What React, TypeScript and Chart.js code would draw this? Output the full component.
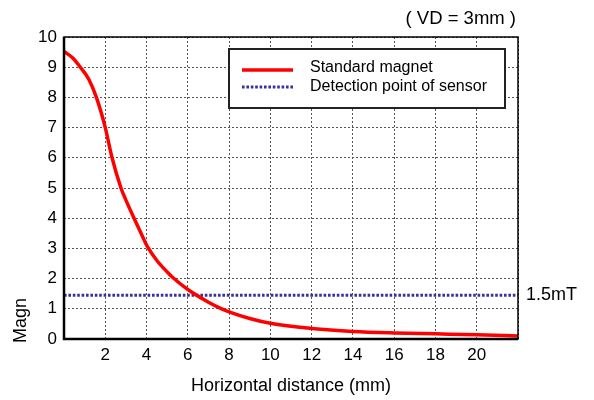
import React, { useEffect, useRef } from "react";
import { Chart, registerables } from "chart.js";

Chart.register(...registerables);

// Horizontal distance (mm)
const distances = [0, 0.4, 0.79, 1.2, 1.57, 2.0, 2.31, 2.76, 3.0, 3.36, 3.7, 4.05, 4.5, 5.0, 5.3, 6.0, 7.0, 7.64, 8, 9, 10, 12, 14, 16, 18, 20, 22];
// Standard magnet flux density (mT)
const magnetValues = [9.52, 9.32, 9.0, 8.6, 8.0, 7.0, 6.05, 5.0, 4.6, 4.05, 3.55, 3.05, 2.6, 2.22, 2.02, 1.64, 1.22, 1.0, 0.9, 0.68, 0.52, 0.35, 0.25, 0.2, 0.17, 0.14, 0.1];
// Detection point of sensor
const sensorX = [0, 22];
const sensorValues = [1.45, 1.45];

const xTickLabels = ["", "2", "4", "6", "8", "10", "12", "14", "16", "18", "20", ""];
const seriesLabels = ["Standard magnet", "Detection point of sensor"];
const chartNote = "( VD = 3mm )";
const levelLabel = "1.5mT";
const yTitle = "Magn";
const xTitle = "Horizontal distance (mm)";

const RED = "#ff0000";
const BLUE = "#333399";
const FONT = "'Liberation Sans', Arial, sans-serif";

const overlayPlugin = {
  id: "overlay",
  afterDraw(chart: any) {
    const { ctx, chartArea } = chart;
    const { left, right, top, bottom } = chartArea;
    ctx.save();
    // frame
    ctx.strokeStyle = "#000";
    ctx.lineWidth = 1.5;
    ctx.strokeRect(left, top, right - left, bottom - top);
    ctx.lineWidth = 2.5;
    ctx.beginPath();
    ctx.moveTo(left, top);
    ctx.lineTo(left, bottom);
    ctx.lineTo(right, bottom);
    ctx.stroke();

    // legend box
    const bx = left + 165;
    const by = top + 12;
    const bw = 276;
    const bh = 59;
    ctx.fillStyle = "#fff";
    ctx.fillRect(bx, by, bw, bh);
    ctx.strokeStyle = "#222";
    ctx.lineWidth = 2;
    ctx.strokeRect(bx, by, bw, bh);

    ctx.lineCap = "butt";
    ctx.strokeStyle = RED;
    ctx.lineWidth = 3.5;
    ctx.beginPath();
    ctx.moveTo(bx + 13, by + 21);
    ctx.lineTo(bx + 64, by + 21);
    ctx.stroke();

    ctx.strokeStyle = BLUE;
    ctx.lineWidth = 3;
    ctx.setLineDash([2.6, 1.8]);
    ctx.beginPath();
    ctx.moveTo(bx + 13, by + 38);
    ctx.lineTo(bx + 64, by + 38);
    ctx.stroke();
    ctx.setLineDash([]);

    ctx.fillStyle = "#000";
    ctx.font = `16px ${FONT}`;
    ctx.textAlign = "left";
    ctx.textBaseline = "middle";
    ctx.fillText(seriesLabels[0], bx + 81, by + 19);
    ctx.fillText(seriesLabels[1], bx + 81, by + 38);

    // note top-right
    ctx.font = `18.5px ${FONT}`;
    ctx.textAlign = "right";
    ctx.fillText(chartNote, right - 2, 19);

    // level label
    const yScale = chart.scales.y;
    ctx.font = `18px ${FONT}`;
    ctx.textAlign = "left";
    ctx.fillText(levelLabel, right + 8, yScale.getPixelForValue(sensorValues[0]));

    // y axis title (clipped "Magn")
    ctx.translate(21, bottom + 4);
    ctx.rotate(-Math.PI / 2);
    ctx.textAlign = "left";
    ctx.fillText(yTitle, 0, 0);
    ctx.restore();
  },
};

export default function App() {
  const canvasRef = useRef<HTMLCanvasElement | null>(null);

  useEffect(() => {
    document.body.style.margin = "0";
    const canvas = canvasRef.current;
    if (!canvas) return;
    const chart = new Chart(canvas, {
      type: "line",
      data: {
        datasets: [
          {
            label: seriesLabels[0],
            data: distances.map((x, i) => ({ x, y: magnetValues[i] })),
            borderColor: RED,
            borderWidth: 3.5,
            pointRadius: 0,
            cubicInterpolationMode: "monotone",
            fill: false,
          },
          {
            label: seriesLabels[1],
            data: sensorX.map((x, i) => ({ x, y: sensorValues[i] })),
            borderColor: BLUE,
            borderWidth: 3,
            borderDash: [2.6, 1.8],
            borderCapStyle: "butt",
            pointRadius: 0,
            fill: false,
          },
        ],
      },
      options: {
        animation: false,
        responsive: false,
        layout: { padding: { top: 37, right: 76, left: 0, bottom: 0 } },
        plugins: {
          legend: { display: false },
          tooltip: { enabled: false },
          title: { display: false },
        },
        scales: {
          x: {
            type: "linear",
            min: 0,
            max: 22,
            ticks: {
              stepSize: 2,
              color: "#000",
              padding: 6,
              font: { family: FONT, size: 17 },
              callback: (v: any) => xTickLabels[Math.round(Number(v) / 2)] ?? "",
              maxRotation: 0,
              autoSkip: false,
            },
            grid: { color: "#555", lineWidth: 1, drawTicks: false },
            border: { display: false, dash: [2, 2] },
            title: {
              display: true,
              text: xTitle,
              color: "#000",
              font: { family: FONT, size: 18 },
              padding: { top: 4, bottom: 3 },
            },
            afterFit: (s: any) => {
              s.height = 61;
            },
          },
          y: {
            min: 0,
            max: 10,
            ticks: {
              stepSize: 1,
              color: "#000",
              padding: 7,
              font: { family: FONT, size: 17 },
            },
            grid: { color: "#555", lineWidth: 1, drawTicks: false },
            border: { display: false, dash: [2, 2] },
            afterFit: (s: any) => {
              s.width = 64;
            },
          },
        },
      },
      plugins: [overlayPlugin],
    } as any);
    return () => chart.destroy();
  }, []);

  return (
    <div style={{ width: 594, height: 400, background: "#fff" }}>
      <canvas ref={canvasRef} width={594} height={400} style={{ display: "block" }} />
    </div>
  );
}
